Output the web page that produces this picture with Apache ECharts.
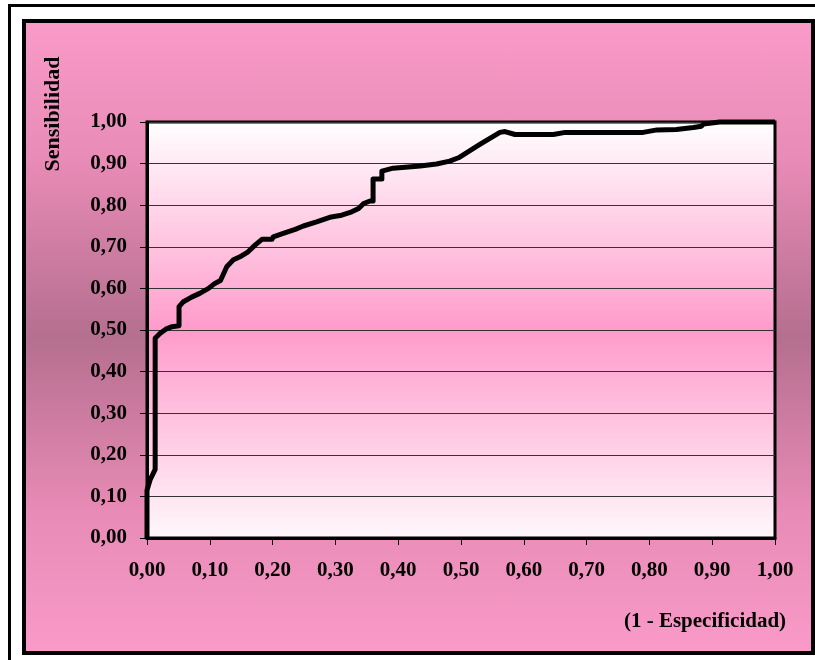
<!DOCTYPE html>
<html>
<head>
<meta charset="utf-8">
<script src="https://cdn.jsdelivr.net/npm/echarts@6/dist/echarts.min.js"></script>
<style>
  html, body { margin: 0; padding: 0; background: #ffffff; width: 815px; height: 660px; overflow: hidden; }
  #frame { position: absolute; left: 8px; top: 4px; width: 900px; height: 900px; border-top: 3px solid #000; border-left: 3px solid #000; box-sizing: border-box; }
  #box { position: absolute; left: 22px; top: 19px; width: 793px; height: 636px; border: 4px solid #000; box-sizing: border-box;
         background: linear-gradient(to bottom, #f99ac8 0%, #e88bb6 22%, #b56f8f 50%, #e88bb6 78%, #f99ac8 100%); }
  #chart { position: absolute; left: 0; top: 0; width: 815px; height: 660px; }
</style>
</head>
<body>
<div id="frame"></div>
<div id="box"></div>
<div id="chart"></div>
<script>
// 1 - Especificidad (false positive rate)
const fpr = [0, 0, 0, 0.005, 0.013, 0.013, 0.021, 0.030, 0.040, 0.051, 0.051, 0.058, 0.071, 0.084, 0.098,
  0.108, 0.117, 0.127, 0.137, 0.148, 0.161, 0.172, 0.183, 0.199, 0.201, 0.217, 0.236, 0.249, 0.270, 0.291,
  0.310, 0.326, 0.337, 0.345, 0.355, 0.360, 0.360, 0.374, 0.374, 0.392, 0.435, 0.461, 0.482, 0.496, 0.530,
  0.562, 0.570, 0.586, 0.647, 0.666, 0.790, 0.812, 0.843, 0.870, 0.883, 0.886, 0.912, 1.0];
// Sensibilidad (true positive rate)
const tpr = [0, 0.05, 0.115, 0.14, 0.165, 0.48, 0.492, 0.502, 0.508, 0.51, 0.556, 0.568, 0.579, 0.588, 0.600,
  0.612, 0.619, 0.652, 0.668, 0.676, 0.688, 0.704, 0.718, 0.718, 0.724, 0.732, 0.742, 0.750, 0.760, 0.771,
  0.776, 0.784, 0.792, 0.804, 0.810, 0.810, 0.863, 0.863, 0.882, 0.889, 0.894, 0.899, 0.906, 0.914, 0.946,
  0.975, 0.977, 0.970, 0.970, 0.975, 0.975, 0.981, 0.982, 0.987, 0.990, 0.995, 1.0, 1.0];

const xTickLabels = ['0,00','0,10','0,20','0,30','0,40','0,50','0,60','0,70','0,80','0,90','1,00'];
const yTickLabels = ['0,00','0,10','0,20','0,30','0,40','0,50','0,60','0,70','0,80','0,90','1,00'];
const yTitle = 'Sensibilidad';
const xTitle = '(1 - Especificidad)';

const FONT = '"Liberation Serif", "Times New Roman", serif';
const chart = echarts.init(document.getElementById('chart'), null, { renderer: 'canvas' });

const points = fpr.map((x, i) => [x, tpr[i]]);

chart.setOption({
  animation: false,
  backgroundColor: 'transparent',
  grid: {
    left: 147, top: 122, width: 628, height: 416,
    show: true,
    borderColor: '#000', borderWidth: 3,
    backgroundColor: {
      type: 'linear', x: 0, y: 0, x2: 0, y2: 1,
      colorStops: [
        { offset: 0, color: '#ffffff' },
        { offset: 0.5, color: '#ff9bcb' },
        { offset: 1, color: '#fff8fb' }
      ]
    }
  },
  xAxis: {
    type: 'value', min: 0, max: 1, interval: 0.1,
    axisLine: { show: true, lineStyle: { color: '#000', width: 3 } },
    axisTick: { show: true, length: 7, lineStyle: { color: '#000', width: 1 } },
    splitLine: { show: false },
    axisLabel: {
      margin: 22, color: '#000', fontFamily: FONT, fontWeight: 'bold', fontSize: 21,
      formatter: v => xTickLabels[Math.round(v * 10)]
    }
  },
  yAxis: {
    type: 'value', min: 0, max: 1, interval: 0.1,
    axisLine: { show: true, lineStyle: { color: '#000', width: 3 } },
    axisTick: { show: true, length: 7, lineStyle: { color: '#000', width: 1 } },
    splitLine: { show: true, lineStyle: { color: '#333', width: 1 } },
    axisLabel: {
      margin: 20, color: '#000', fontFamily: FONT, fontWeight: 'bold', fontSize: 21,
      formatter: v => yTickLabels[Math.round(v * 10)]
    }
  },
  series: [{
    type: 'line',
    data: points,
    showSymbol: false,
    symbol: 'none',
    clip: false,
    lineStyle: { color: '#000', width: 5, join: 'round' }
  }],
  graphic: [
    {
      type: 'text', x: 53, y: 114, rotation: Math.PI / 2,
      style: { text: yTitle, fill: '#000', font: 'bold 22px ' + FONT, align: 'center', verticalAlign: 'middle' }
    },
    {
      type: 'text', x: 705, y: 622,
      style: { text: xTitle, fill: '#000', font: 'bold 21px ' + FONT, align: 'center', verticalAlign: 'middle' }
    }
  ]
});
</script>
</body>
</html>
